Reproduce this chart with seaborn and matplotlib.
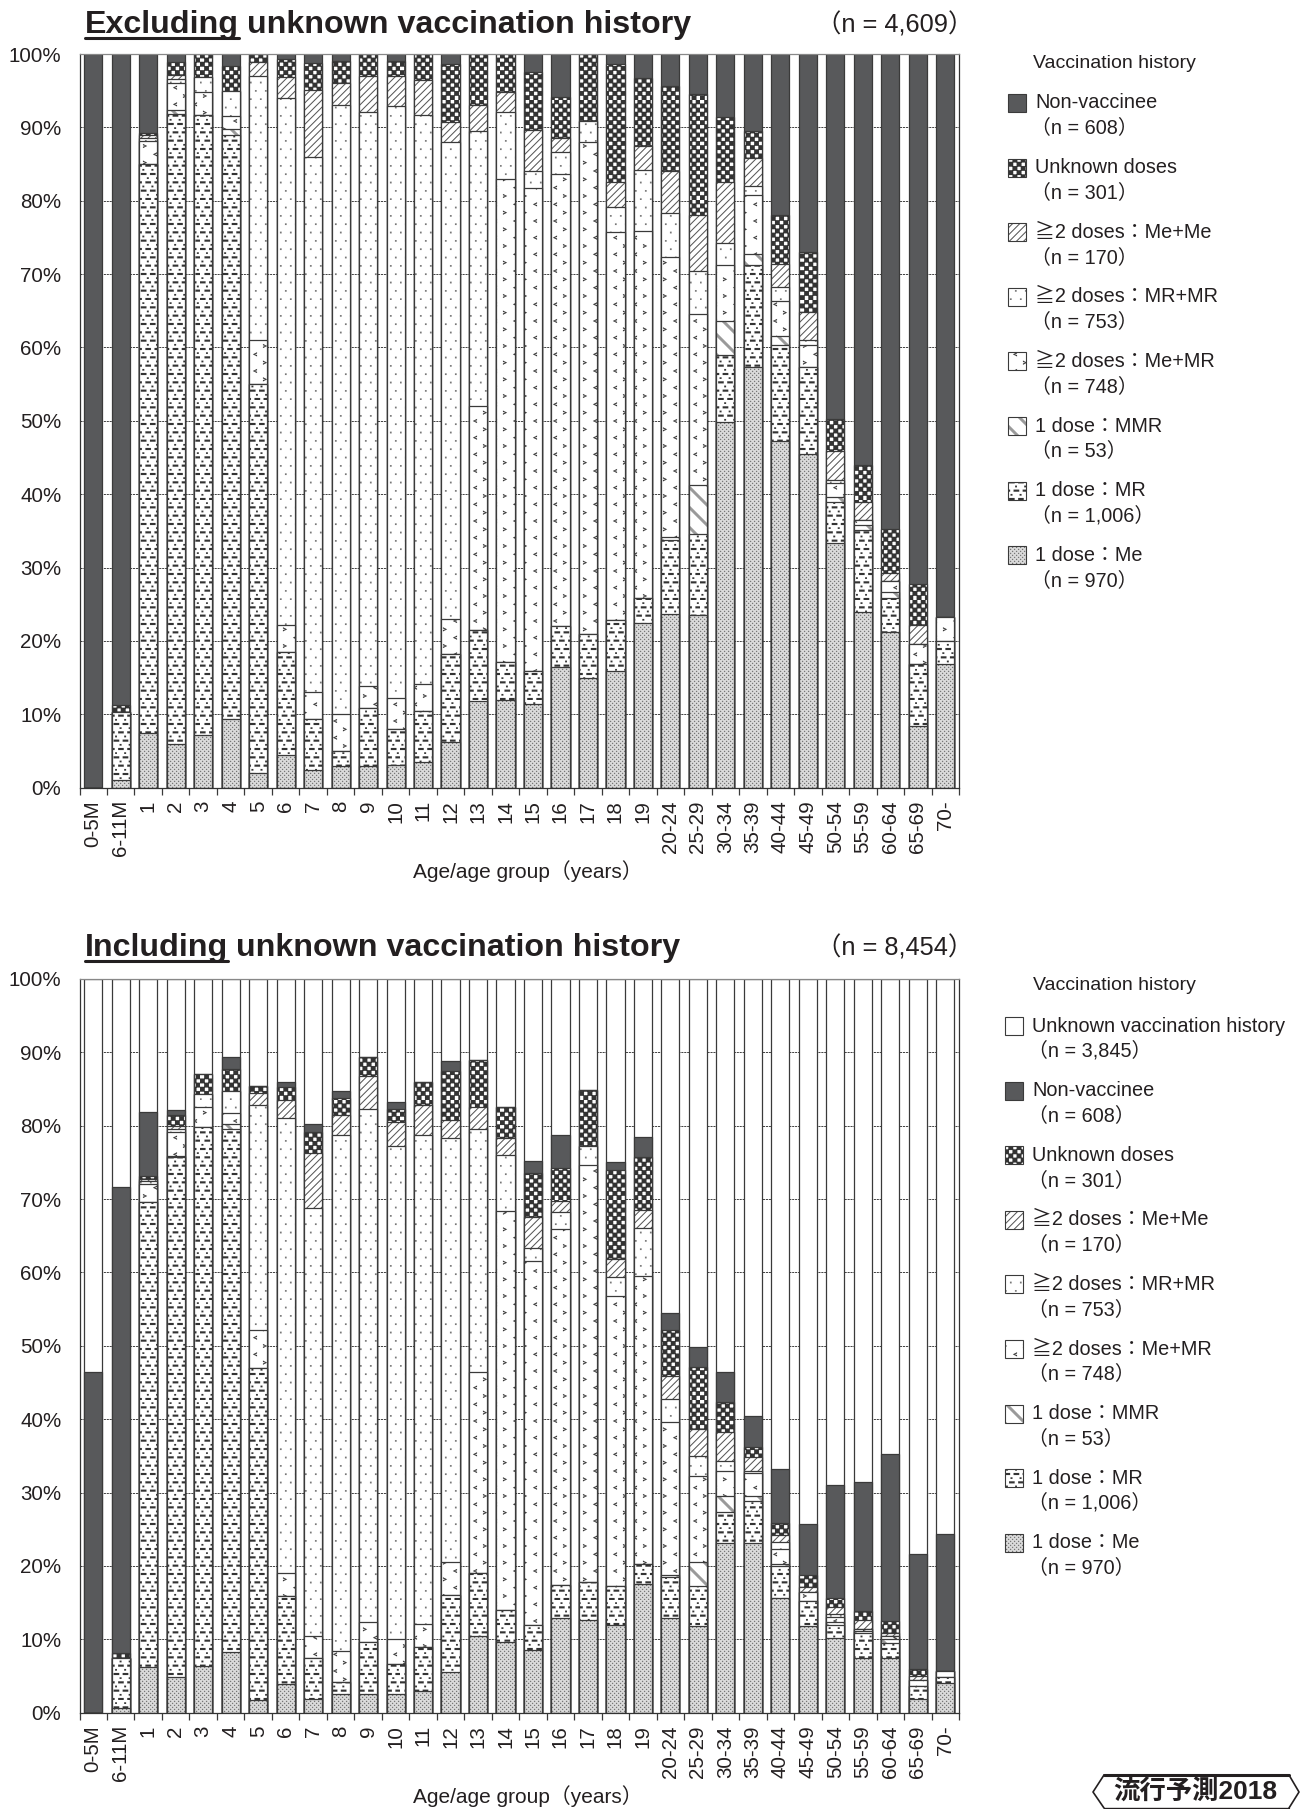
import numpy as np
import seaborn as sns
from matplotlib import pyplot as plt
from matplotlib import hatch as mhatch
from matplotlib.colors import to_rgba
from matplotlib.lines import Line2D
from matplotlib.path import Path
from matplotlib.patches import Rectangle

ages = ['0-5M', '6-11M', '1', '2', '3', '4', '5', '6', '7', '8', '9', '10', '11', '12', '13', '14',
        '15', '16', '17', '18', '19', '20-24', '25-29', '30-34', '35-39', '40-44', '45-49', '50-54',
        '55-59', '60-64', '65-69', '70-']

# each list is the top of that segment in the stack (%)
excl_me = [0, 1, 7.5, 6, 7.2, 9.3, 2, 4.5, 2.4, 3, 3, 3.1, 3.5, 6.2, 11.8, 11.9, 11.4, 16.4, 14.9, 15.9, 22.5, 23.7, 23.6, 49.9, 57.4, 47.2, 45.5, 33.3, 24, 21.2, 8.4, 16.8]
excl_mr = [0, 10.3, 85, 91.8, 91.7, 88.9, 55, 18.5, 9.4, 5, 10.8, 8, 10.5, 18.2, 21.5, 17.1, 15.9, 22.1, 20.9, 22.9, 25.9, 33.8, 34.6, 59, 71.3, 60.4, 57.4, 39, 35.1, 25.9, 16.8, 20]
excl_mmr = [0, 10.3, 85, 92.4, 91.7, 89.8, 55, 18.5, 9.4, 5, 10.8, 8, 10.5, 18.2, 21.5, 17.1, 15.9, 22.1, 20.9, 22.9, 25.9, 34.2, 41.2, 63.6, 72.7, 61.5, 57.4, 39.6, 35.8, 26.7, 16.8, 20]
excl_memr = [0, 10.3, 88.1, 96.1, 94.8, 91.5, 61, 22.2, 13, 10, 13.9, 12.2, 14.1, 23, 52, 82.9, 81.8, 83.6, 88, 75.7, 75.9, 72.3, 64.6, 71.2, 80.8, 66.4, 60.4, 41.5, 36.5, 28.2, 19.6, 23.3]
excl_mrmr = [0, 10.3, 88.5, 96.6, 96.8, 95, 97, 94, 85.9, 93, 92.1, 92.9, 91.7, 88, 89.5, 92.1, 84, 86.6, 90.9, 79.2, 84.2, 78.3, 70.4, 74.2, 82, 68.2, 61, 42, 36.5, 28.2, 19.6, 23.3]
excl_meme = [0, 10.3, 88.9, 97.2, 96.8, 95, 98.9, 96.9, 95.1, 96.1, 97, 97, 96.4, 90.8, 93, 94.8, 89.7, 88.6, 90.9, 82.6, 87.5, 84, 78, 82.6, 85.8, 71.4, 64.9, 45.9, 38.9, 29.3, 22.2, 23.3]
excl_unk = [0, 11.3, 89.2, 98.9, 100, 98.3, 100, 99.3, 98.8, 99.1, 100, 99.1, 100, 98.7, 100, 100, 97.6, 94.2, 100, 98.7, 96.7, 95.6, 94.5, 91.4, 89.5, 78, 73, 50.2, 44, 35.3, 27.7, 23.3]
excl_non = [100, 100, 100, 100, 100, 100, 100, 100, 100, 100, 100, 100, 100, 100, 100, 100, 100, 100, 100, 100, 100, 100, 100, 100, 100, 100, 100, 100, 100, 100, 100, 100]

incl_me = [0, 0.7, 6.2, 4.9, 6.3, 8.3, 1.7, 3.9, 1.8, 2.5, 2.6, 2.5, 3, 5.5, 10.5, 9.7, 8.5, 12.9, 12.6, 11.9, 17.6, 12.9, 11.8, 23.1, 23.1, 15.7, 11.8, 10.2, 7.5, 7.5, 1.9, 4]
incl_mr = [0, 7.4, 69.6, 75.7, 79.8, 79.5, 47, 15.9, 7.5, 4.2, 9.7, 6.7, 9, 16.1, 19.1, 14, 11.9, 17.4, 17.8, 17.3, 20.3, 18.5, 17.3, 27.3, 28.8, 20, 15.2, 12, 10.9, 9.5, 3.7, 4.9]
incl_mmr = [0, 7.4, 69.6, 75.9, 79.8, 80.3, 47, 15.9, 7.5, 4.2, 9.7, 6.7, 9, 16.1, 19.1, 14, 11.9, 17.4, 17.8, 17.3, 20.3, 18.7, 20.5, 29.5, 29.5, 20.3, 15.2, 12.3, 11.1, 10, 3.7, 4.9]
incl_memr = [0, 7.4, 72.1, 79.1, 82.5, 81.8, 52.1, 19.1, 10.4, 8.4, 12.4, 10, 12.1, 20.5, 46.4, 68.4, 61.5, 65.9, 74.7, 56.8, 59.5, 39.6, 32.2, 33, 32.7, 22.3, 16.4, 13.1, 11.4, 10.5, 4.5, 5.7]
incl_mrmr = [0, 7.4, 72.5, 79.5, 84.3, 84.8, 82.8, 81, 68.8, 78.7, 82.3, 77.3, 78.8, 78.3, 79.6, 76, 63.3, 68.2, 77.2, 59.4, 66, 42.7, 35, 34.3, 33, 23.2, 16.4, 13.4, 11.4, 10.5, 4.5, 5.7]
incl_meme = [0, 7.4, 72.8, 80, 84.3, 84.8, 84.5, 83.5, 76.3, 81.4, 86.8, 80.5, 82.8, 80.8, 82.6, 78.3, 67.6, 69.7, 77.2, 61.9, 68.5, 45.9, 38.7, 38.3, 34.8, 24.2, 17.2, 14.4, 12.6, 10.9, 5, 5.7]
incl_unk = [0, 8.1, 73.1, 81.4, 87, 87.8, 85.4, 85.3, 79.1, 83.8, 89.4, 82.3, 85.9, 87.5, 88.9, 82.6, 73.5, 74.2, 84.9, 73.9, 75.8, 52.1, 47.1, 42.4, 36.2, 25.8, 18.7, 15.7, 13.8, 12.5, 6, 5.7]
incl_non = [46.4, 71.6, 81.9, 82.2, 87, 89.4, 85.4, 86, 80.2, 84.7, 89.4, 83.2, 85.9, 88.8, 88.9, 82.6, 75.2, 78.8, 84.9, 75, 78.5, 54.5, 49.8, 46.4, 40.4, 33.2, 25.7, 31, 31.4, 35.2, 21.6, 24.4]
incl_hist = [100, 100, 100, 100, 100, 100, 100, 100, 100, 100, 100, 100, 100, 100, 100, 100, 100, 100, 100, 100, 100, 100, 100, 100, 100, 100, 100, 100, 100, 100, 100, 100]

excl_legend = [('Non-vaccinee', '608'), ('Unknown doses', '301'), ('≧2 doses：Me+Me', '170'), ('≧2 doses：MR+MR', '753'),
               ('≧2 doses：Me+MR', '748'), ('1 dose：MMR', '53'), ('1 dose：MR', '1,006'), ('1 dose：Me', '970')]
incl_legend = [('Unknown vaccination history', '3,845')] + excl_legend

DARK = '#58595b'
INK = '#231f20'
EDGE = '#3a3a3a'


# the hatch tile is 100 px square at dpi 100; shapes below are in tile pixels
def box(x, y, w, h):
    return [(x, y), (x + w, y), (x + w, y + h), (x, y + h)]


def chevron(x, y, d):
    s = 2
    return [(x + d * s, y - s), (x - d * s, y), (x + d * s, y + s), (x + d * s, y + s - 1.2), (x - d * s + 1.6 * d, y), (x + d * s, y - s + 1.2)]


def diagonal(i, n, d, w=0.8):
    x = i * 100 / n
    return [(x, 0), (x + w, 0), (x + w + 100 * d, 100), (x + 100 * d, 100)]


tiles = {
    'o': [box(i * 2, j * 2, 1.1, 1.1) for i in range(50) for j in range(50) if (i + j) % 2 == 0],
    '-': [box(i * 100 / 11 + (j % 2) * 100 / 22, j * 100 / 12, 5.5, 2) for i in range(11) for j in range(12)]
         + [box(i * 100 / 11 + 1.5 + (j % 2) * 100 / 22, j * 100 / 12 + 4.4, 1.8, 1.6) for i in range(11) for j in range(12)],
    '\\': [diagonal(i, 5, -1, 4) for i in range(0, 11)],
    'O': [chevron(i * 20 + 5 + (j % 2) * 10, j * 100 / 12 + 4, 1 if j % 2 else -1) for i in range(5) for j in range(12)],
    '.': [box(i * 10 + (j % 2) * 5, j * 100 / 12, 1.6, 1.6) for i in range(10) for j in range(12)],
    '/': [diagonal(i, 14, 1, 1.1) for i in range(-14, 15)],
    'X': [box(i * 100 / 24, j * 100 / 24, 4.8, 4.8) for i in range(24) for j in range(24) if (i + j) % 2 == 0],
}


class TileHatch(mhatch.HatchPatternBase):
    def __init__(self, hatch, density):
        self.polys = [p for ch in set(hatch) for p in tiles.get(ch, [])]
        self.num_vertices = sum(len(p) + 1 for p in self.polys)

    def set_vertices_and_codes(self, vertices, codes):
        k = 0
        for p in self.polys:
            n = len(p)
            vertices[k:k + n] = np.array(p) / 100
            vertices[k + n] = vertices[k]
            codes[k] = Path.MOVETO
            codes[k + 1:k + n] = Path.LINETO
            codes[k + n] = Path.CLOSEPOLY
            k += n + 1


mhatch._hatch_types[:] = [TileHatch]

sns.set_theme(style='ticks')
plt.rcParams['font.family'] = ['Liberation Sans', 'Noto Sans CJK JP']
plt.rcParams['hatch.linewidth'] = 0.1
plt.rcParams['text.color'] = INK

# style per series: fill, hatch, hatch colour
styles = {
    'hist': ('white', None, EDGE),
    'non': (DARK, None, EDGE),
    'unk': ('white', 'X', '#333333'),
    'meme': ('white', '/', '#444444'),
    'mrmr': ('white', '.', '#777777'),
    'memr': ('white', 'O', '#333333'),
    'mmr': ('white', '\\', '#9a9a9a'),
    'mr': ('white', '-', '#333333'),
    'me': ('#dddddd', 'o', '#777777'),
}

W, H = 1301, 1809
fig = plt.figure(figsize=(W / 100, H / 100), dpi=100)


def fx(px):
    return px / W


def fy(py):
    return 1 - py / H


def draw_panel(top, bottom, series):
    ax = fig.add_axes([fx(79.5), fy(bottom), fx(959 - 79.5), (bottom - top) / H])
    # tallest first, each lower segment is painted over the one above it
    for key, vals in series:
        fill, pat, hcol = styles[key]
        sns.barplot(x=ages, y=vals, color=fill, saturation=1, width=0.66, edgecolor=EDGE, linewidth=0.9,
                    hatch=pat, errorbar=None, ax=ax)
        for bar in ax.containers[-1]:
            bar._hatch_color = to_rgba(hcol)
    ax.set_xlim(-0.5, len(ages) - 0.5)
    ax.set_ylim(0, 100)
    ax.set_yticks(range(0, 101, 10))
    ax.set_yticklabels([f'{v}%' for v in range(0, 101, 10)], fontsize=14.8, color=INK)
    ax.tick_params(axis='y', length=0, pad=13)
    ax.grid(axis='y', color='#222222', linewidth=0.6, linestyle=(0, (2.5, 1)))
    ax.set_axisbelow(True)
    ax.set_xticks(np.arange(-0.5, len(ages)), minor=True)
    ax.tick_params(axis='x', which='minor', length=5, width=0.9, color=EDGE)
    ax.tick_params(axis='x', which='major', length=0, pad=9)
    ax.set_xticks(range(len(ages)))
    ax.set_xticklabels(ages, rotation=90, fontsize=14.8, color=INK)
    ax.set_xlabel('Age/age group（years）', fontsize=15, color=INK, labelpad=3, x=0.51)
    for side in ax.spines:
        ax.spines[side].set_visible(True)
        ax.spines[side].set_linewidth(0.9)
        ax.spines[side].set_color('#333333')
    ax.spines['top'].set_color('#888888')
    return ax


def draw_heading(word, rest, n, y):
    renderer = fig.canvas.get_renderer()
    t1 = fig.text(fx(85), fy(y), word, fontsize=23.2, fontweight='bold', va='baseline')
    box1 = t1.get_window_extent(renderer)
    fig.text(box1.x1 / W + fx(8), fy(y), rest, fontsize=23.2, fontweight='bold', va='baseline')
    fig.add_artist(Line2D([box1.x0 / W, box1.x1 / W], [fy(y + 5)] * 2, color=INK, linewidth=2.2))
    fig.text(fx(973), fy(y - 0.5), f'（n = {n}）', fontsize=18.3, ha='right', va='baseline')


def draw_legend(entries, keys, x0, title_y, first_y, pitch=64.6):
    fig.text(fx(1033), fy(title_y), 'Vaccination history', fontsize=14, va='center')
    for i, ((name, n), key) in enumerate(zip(entries, keys)):
        y = first_y + i * pitch
        fill, pat, hcol = styles[key]
        swatch = Rectangle((fx(x0), fy(y + 9)), 18 / W, 18 / H, transform=fig.transFigure, facecolor=fill,
                           edgecolor=EDGE, linewidth=0.8, hatch=pat)
        swatch._hatch_color = to_rgba(hcol)
        fig.add_artist(swatch)
        fig.text(fx(x0 + 27), fy(y), name, fontsize=14.3, va='center')
        fig.text(fx(x0 + 23), fy(y + 25), f'（n = {n}）', fontsize=14.3, va='center')


draw_panel(54, 787.7, [('non', excl_non), ('unk', excl_unk), ('meme', excl_meme), ('mrmr', excl_mrmr),
                       ('memr', excl_memr), ('mmr', excl_mmr), ('mr', excl_mr), ('me', excl_me)])
draw_panel(979, 1712.7, [('hist', incl_hist), ('non', incl_non), ('unk', incl_unk), ('meme', incl_meme), ('mrmr', incl_mrmr),
                         ('memr', incl_memr), ('mmr', incl_mmr), ('mr', incl_mr), ('me', incl_me)])

draw_heading('Excluding', 'unknown vaccination history', '4,609', 33)
draw_heading('Including', 'unknown vaccination history', '8,454', 956)

keys8 = ['non', 'unk', 'meme', 'mrmr', 'memr', 'mmr', 'mr', 'me']
draw_legend(excl_legend, keys8, 1008, 63, 103)
draw_legend(incl_legend, ['hist'] + keys8, 1005, 986, 1026)

# badge, bottom right
fig.text(fx(1195), fy(1792), '流行予測2018', fontsize=19, fontweight='bold', ha='center', va='center')
for xs, ys, lw in [([1104, 1093, 1104], [1775, 1792, 1808], 1.2), ([1289, 1299, 1289], [1775, 1792, 1808], 1.2),
                   ([1104, 1289], [1775, 1775], 2.2), ([1104, 1289], [1808, 1808], 1.0)]:
    fig.add_artist(Line2D([fx(v) for v in xs], [fy(v) for v in ys], color=INK, linewidth=lw))

fig.savefig('out.png', dpi=100)
